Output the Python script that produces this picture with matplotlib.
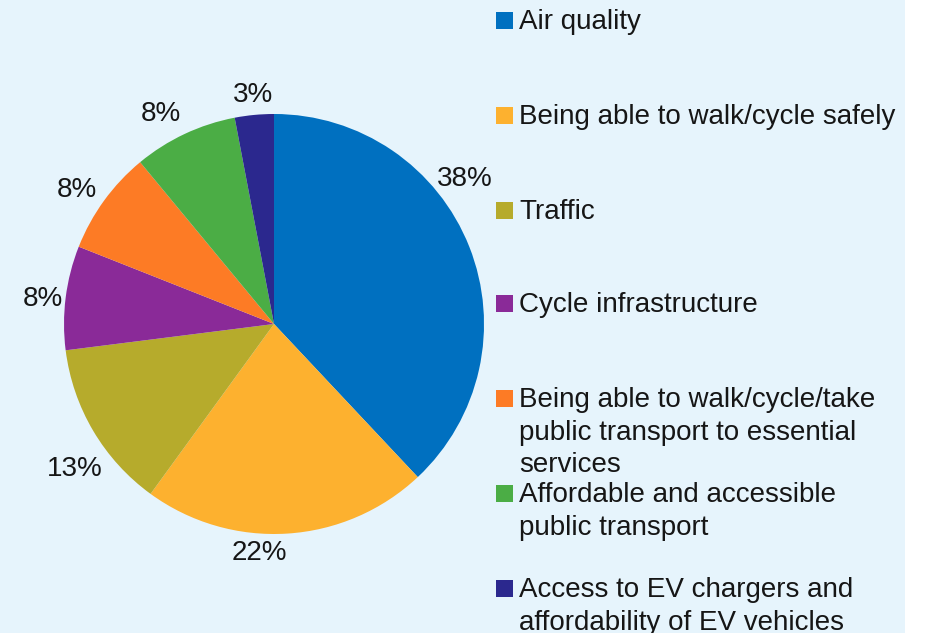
import matplotlib.pyplot as plt
from matplotlib.patches import Rectangle

plt.rcParams['font.family'] = ['Liberation Sans', 'DejaVu Sans']

# Share of responses by topic
categories = [
    "Air quality",
    "Being able to walk/cycle safely",
    "Traffic",
    "Cycle infrastructure",
    "Being able to walk/cycle/take\npublic transport to essential\nservices",
    "Affordable and accessible\npublic transport",
    "Access to EV chargers and\naffordability of EV vehicles",
]
shares = [38, 22, 13, 8, 8, 8, 3]
colors = ['#0070C0', '#FDB12F', '#B6AB2C', '#8A2A98', '#FD7B25', '#4BAD45', '#2B288E']

# label anchors (pie data units), placed around the outside of the pie
label_pos = [(0.91, 0.69), (-0.07, -1.09), (-0.95, -0.69), (-1.10, 0.12),
             (-0.94, 0.64), (-0.54, 1.00), (-0.10, 1.09)]

bg = '#E6F4FC'
text_color = '#161616'

fig = plt.figure(figsize=(9.25, 6.33), dpi=100)
fig.patch.set_facecolor('white')
# light blue panel, white strip on the right
fig.patches.append(Rectangle((0, 0), 905 / 925, 1, transform=fig.transFigure,
                             facecolor=bg, edgecolor='none', zorder=-10))

ax = fig.add_axes([0.01243, 0.07346, 0.5676, 0.8294])
ax.set_facecolor('none')
wedges, _ = ax.pie(shares, colors=colors, startangle=90, counterclock=False,
                   radius=1.0, wedgeprops=dict(linewidth=0))
ax.set_xlim(-1.25, 1.25)
ax.set_ylim(-1.25, 1.25)
ax.set_aspect('equal')

for (x, y), v in zip(label_pos, shares):
    ax.text(x, y, f"{v}%", ha='center', va='center', fontsize=20, color=text_color)

# legend on the right
W, H = 925, 633
legend_y = [20, 115, 210, 303, 398, 493, 588]
for name, c, y in zip(categories, colors, legend_y):
    fig.patches.append(Rectangle((496 / W, 1 - (y + 9) / H), 17 / W, 17 / H,
                                 transform=fig.transFigure, facecolor=c,
                                 edgecolor='none'))
    fig.text(519 / W, 1 - (y - 11) / H, name, ha='left', va='top',
             fontsize=20, color=text_color, linespacing=1.33)

fig.savefig('out.png', dpi=100, facecolor=fig.get_facecolor())
